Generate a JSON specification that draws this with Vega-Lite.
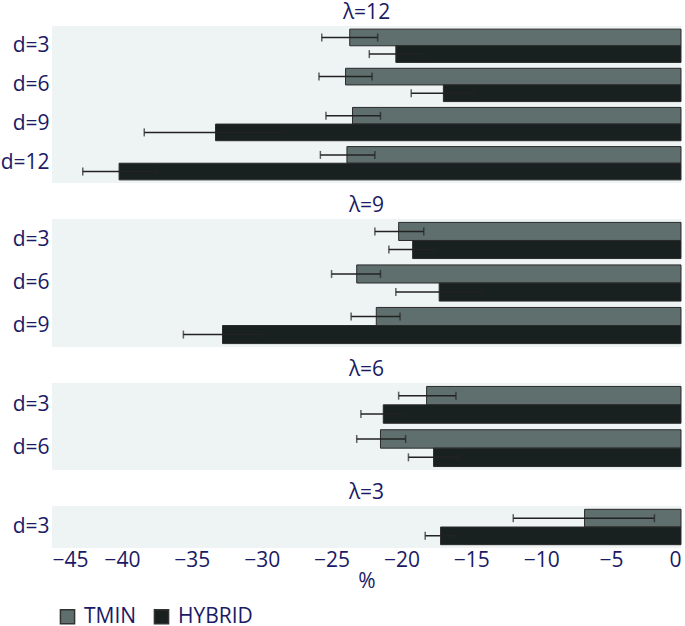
{
  "$schema": "https://vega.github.io/schema/vega-lite/v6.json",
  "padding": {"left": 0, "top": 2, "right": 5, "bottom": 0},
  "datasets": {
    "rows": [
      {"lam": "λ=12", "d": "d=3", "method": "TMIN", "value": -23.7, "lo": -25.7, "hi": -21.7},
      {"lam": "λ=12", "d": "d=3", "method": "HYBRID", "value": -20.4, "lo": -22.3, "hi": -18.4},
      {"lam": "λ=12", "d": "d=6", "method": "TMIN", "value": -24.0, "lo": -25.9, "hi": -22.1},
      {"lam": "λ=12", "d": "d=6", "method": "HYBRID", "value": -17.0, "lo": -19.3, "hi": -14.7},
      {"lam": "λ=12", "d": "d=9", "method": "TMIN", "value": -23.5, "lo": -25.4, "hi": -21.5},
      {"lam": "λ=12", "d": "d=9", "method": "HYBRID", "value": -33.3, "lo": -38.4, "hi": -28.2},
      {"lam": "λ=12", "d": "d=12", "method": "TMIN", "value": -23.9, "lo": -25.8, "hi": -21.9},
      {"lam": "λ=12", "d": "d=12", "method": "HYBRID", "value": -40.2, "lo": -42.8, "hi": -37.5},
      {"lam": "λ=9", "d": "d=3", "method": "TMIN", "value": -20.2, "lo": -21.9, "hi": -18.4},
      {"lam": "λ=9", "d": "d=3", "method": "HYBRID", "value": -19.2, "lo": -20.9, "hi": -17.6},
      {"lam": "λ=9", "d": "d=6", "method": "TMIN", "value": -23.2, "lo": -25.0, "hi": -21.5},
      {"lam": "λ=9", "d": "d=6", "method": "HYBRID", "value": -17.3, "lo": -20.4, "hi": -14.2},
      {"lam": "λ=9", "d": "d=9", "method": "TMIN", "value": -21.8, "lo": -23.6, "hi": -20.1},
      {"lam": "λ=9", "d": "d=9", "method": "HYBRID", "value": -32.8, "lo": -35.6, "hi": -29.9},
      {"lam": "λ=6", "d": "d=3", "method": "TMIN", "value": -18.2, "lo": -20.2, "hi": -16.1},
      {"lam": "λ=6", "d": "d=3", "method": "HYBRID", "value": -21.3, "lo": -22.9, "hi": -19.7},
      {"lam": "λ=6", "d": "d=6", "method": "TMIN", "value": -21.5, "lo": -23.2, "hi": -19.7},
      {"lam": "λ=6", "d": "d=6", "method": "HYBRID", "value": -17.7, "lo": -19.5, "hi": -15.9},
      {"lam": "λ=3", "d": "d=3", "method": "TMIN", "value": -6.9, "lo": -12.0, "hi": -1.9},
      {"lam": "λ=3", "d": "d=3", "method": "HYBRID", "value": -17.2, "lo": -18.3, "hi": -16.0}
    ]
  },
  "data": {"name": "rows"},
  "spacing": 12,
  "resolve": {"scale": {"y": "independent", "yOffset": "independent"}},
  "vconcat": [
    {
      "title": "λ=12",
      "width": 629, "height": 157,
      "transform": [{"filter": {"field": "lam", "equal": "λ=12"}}],
      "encoding": {
        "y": {"field": "d", "type": "nominal", "sort": ["d=3", "d=6", "d=9", "d=12"], "scale": {"paddingInner": 0.15, "paddingOuter": 0.08}, "axis": {"title": null}},
        "yOffset": {"field": "method", "type": "nominal", "sort": ["TMIN", "HYBRID"], "scale": {"paddingInner": 0, "paddingOuter": 0}}
      },
      "layer": [
        {"mark": {"type": "bar", "stroke": "#2a2a2a", "strokeWidth": 1},
         "encoding": {"x": {"field": "value", "type": "quantitative", "scale": {"domain": [-45, 0], "nice": false}, "axis": null},
                      "color": {"field": "method", "type": "nominal", "scale": {"domain": ["TMIN", "HYBRID"], "range": ["#5f6f6d", "#18211f"]}, "legend": {"title": null}}}},
        {"mark": {"type": "rule", "color": "#222222", "strokeWidth": 1.5},
         "encoding": {"x": {"field": "lo", "type": "quantitative"}, "x2": {"field": "hi"}}},
        {"mark": {"type": "tick", "color": "#222222", "thickness": 1.5, "size": 8},
         "encoding": {"x": {"field": "lo", "type": "quantitative"}}},
        {"mark": {"type": "tick", "color": "#222222", "thickness": 1.5, "size": 8},
         "encoding": {"x": {"field": "hi", "type": "quantitative"}}}
      ]
    },
    {
      "title": "λ=9",
      "width": 629, "height": 128,
      "transform": [{"filter": {"field": "lam", "equal": "λ=9"}}],
      "encoding": {
        "y": {"field": "d", "type": "nominal", "sort": ["d=3", "d=6", "d=9", "d=12"], "scale": {"paddingInner": 0.15, "paddingOuter": 0.08}, "axis": {"title": null}},
        "yOffset": {"field": "method", "type": "nominal", "sort": ["TMIN", "HYBRID"], "scale": {"paddingInner": 0, "paddingOuter": 0}}
      },
      "layer": [
        {"mark": {"type": "bar", "stroke": "#2a2a2a", "strokeWidth": 1},
         "encoding": {"x": {"field": "value", "type": "quantitative", "scale": {"domain": [-45, 0], "nice": false}, "axis": null},
                      "color": {"field": "method", "type": "nominal", "scale": {"domain": ["TMIN", "HYBRID"], "range": ["#5f6f6d", "#18211f"]}, "legend": {"title": null}}}},
        {"mark": {"type": "rule", "color": "#222222", "strokeWidth": 1.5},
         "encoding": {"x": {"field": "lo", "type": "quantitative"}, "x2": {"field": "hi"}}},
        {"mark": {"type": "tick", "color": "#222222", "thickness": 1.5, "size": 8},
         "encoding": {"x": {"field": "lo", "type": "quantitative"}}},
        {"mark": {"type": "tick", "color": "#222222", "thickness": 1.5, "size": 8},
         "encoding": {"x": {"field": "hi", "type": "quantitative"}}}
      ]
    },
    {
      "title": "λ=6",
      "width": 629, "height": 87,
      "transform": [{"filter": {"field": "lam", "equal": "λ=6"}}],
      "encoding": {
        "y": {"field": "d", "type": "nominal", "sort": ["d=3", "d=6", "d=9", "d=12"], "scale": {"paddingInner": 0.15, "paddingOuter": 0.08}, "axis": {"title": null}},
        "yOffset": {"field": "method", "type": "nominal", "sort": ["TMIN", "HYBRID"], "scale": {"paddingInner": 0, "paddingOuter": 0}}
      },
      "layer": [
        {"mark": {"type": "bar", "stroke": "#2a2a2a", "strokeWidth": 1},
         "encoding": {"x": {"field": "value", "type": "quantitative", "scale": {"domain": [-45, 0], "nice": false}, "axis": null},
                      "color": {"field": "method", "type": "nominal", "scale": {"domain": ["TMIN", "HYBRID"], "range": ["#5f6f6d", "#18211f"]}, "legend": {"title": null}}}},
        {"mark": {"type": "rule", "color": "#222222", "strokeWidth": 1.5},
         "encoding": {"x": {"field": "lo", "type": "quantitative"}, "x2": {"field": "hi"}}},
        {"mark": {"type": "tick", "color": "#222222", "thickness": 1.5, "size": 8},
         "encoding": {"x": {"field": "lo", "type": "quantitative"}}},
        {"mark": {"type": "tick", "color": "#222222", "thickness": 1.5, "size": 8},
         "encoding": {"x": {"field": "hi", "type": "quantitative"}}}
      ]
    },
    {
      "title": "λ=3",
      "width": 629, "height": 42,
      "transform": [{"filter": {"field": "lam", "equal": "λ=3"}}],
      "encoding": {
        "y": {"field": "d", "type": "nominal", "sort": ["d=3", "d=6", "d=9", "d=12"], "scale": {"paddingInner": 0.15, "paddingOuter": 0.08}, "axis": {"title": null}},
        "yOffset": {"field": "method", "type": "nominal", "sort": ["TMIN", "HYBRID"], "scale": {"paddingInner": 0, "paddingOuter": 0}}
      },
      "layer": [
        {"mark": {"type": "bar", "stroke": "#2a2a2a", "strokeWidth": 1},
         "encoding": {"x": {"field": "value", "type": "quantitative", "scale": {"domain": [-45, 0], "nice": false},
                            "axis": {"title": "%", "values": [-45, -40, -35, -30, -25, -20, -15, -10, -5, 0], "grid": false, "ticks": false, "domain": false, "labelPadding": 1, "titlePadding": 0}},
                      "color": {"field": "method", "type": "nominal", "scale": {"domain": ["TMIN", "HYBRID"], "range": ["#5f6f6d", "#18211f"]}, "legend": {"title": null}}}},
        {"mark": {"type": "rule", "color": "#222222", "strokeWidth": 1.5},
         "encoding": {"x": {"field": "lo", "type": "quantitative"}, "x2": {"field": "hi"}}},
        {"mark": {"type": "tick", "color": "#222222", "thickness": 1.5, "size": 8},
         "encoding": {"x": {"field": "lo", "type": "quantitative"}}},
        {"mark": {"type": "tick", "color": "#222222", "thickness": 1.5, "size": 8},
         "encoding": {"x": {"field": "hi", "type": "quantitative"}}}
      ]
    }
  ],
  "config": {
    "font": "Open Sans",
    "view": {"stroke": null, "fill": "#eef3f3"},
    "title": {"fontSize": 21, "fontWeight": "normal", "color": "#1a1a66", "offset": 3},
    "axis": {"labelFontSize": 21, "labelColor": "#1a1a66", "titleFontSize": 21, "titleFontWeight": "normal", "titleColor": "#1a1a66", "grid": false},
    "axisY": {"domain": false, "ticks": false, "labelPadding": 3, "minExtent": 51, "maxExtent": 51},
    "legend": {"orient": "bottom", "direction": "horizontal", "labelFontSize": 21, "labelColor": "#1a1a66", "symbolType": "square", "symbolSize": 200, "symbolStrokeColor": "#333333", "symbolStrokeWidth": 1.5, "columnPadding": 14, "labelOffset": 6, "offset": 10, "padding": 5}
  }
}
